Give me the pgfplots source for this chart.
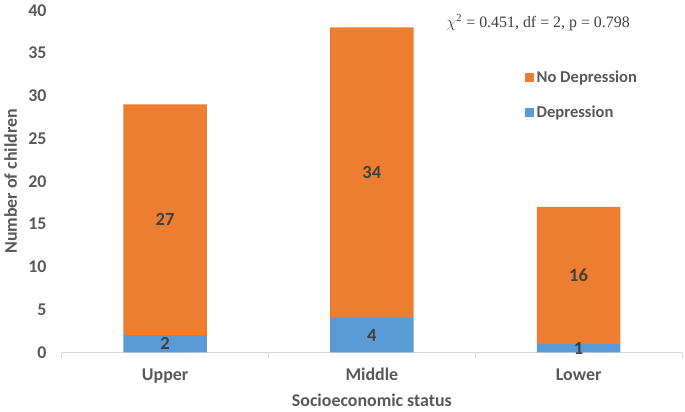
\documentclass[border=0pt]{standalone}
\usepackage{pgfplots}
\pgfplotsset{compat=1.18}
\usepackage{fontspec}
\setmainfont{Carlito}
\newfontfamily\tnr{Liberation Serif}
\definecolor{orng}{HTML}{ED7D31}
\definecolor{blu}{HTML}{5B9BD5}
\definecolor{tickc}{HTML}{595959}
\definecolor{labc}{HTML}{404040}
\definecolor{axg}{HTML}{D9D9D9}
\begin{document}
\begin{tikzpicture}
\begin{axis}[
  scale only axis, width=468pt, height=258pt,
  ybar stacked, bar width=63pt,
  xmin=-0.5, xmax=2.5, ymin=0, ymax=40,
  xtick={0,1,2}, xticklabels={Upper,Middle,Lower},
  minor xtick={-0.5,0.5,1.5,2.5},
  ytick={0,5,...,40},
  axis x line*=bottom, axis y line*=left,
  y axis line style={draw=none},
  x axis line style={axg, line width=0.75pt, -},
  major tick length=0pt,
  minor tick length=4pt,
  tick align=outside,
  minor tick style={axg, line width=0.75pt},
  /pgf/number format/assume math mode=true,
  tick label style={font=\bfseries\fontsize{13.5}{16}\selectfont, text=tickc},
  xticklabel style={text height=9pt, text depth=3pt, yshift=-9pt},
  yticklabel style={xshift=-8pt},
  xlabel={Socioeconomic status},
  ylabel={Number of children},
  every axis x label/.style={at={(axis description cs:0.5,0)}, anchor=base, yshift=-41pt, font=\bfseries\fontsize{13.5}{16}\selectfont, text=tickc},
  every axis y label/.style={at={(axis description cs:0,0.5)}, xshift=-33.75pt, rotate=90, anchor=base, font=\bfseries\fontsize{13.5}{16}\selectfont, text=tickc},
  nodes near coords,
  point meta=explicit,
  every node near coord/.append style={font=\bfseries\fontsize{14}{16}\selectfont, text=labc, anchor=center},
  reverse legend,
  legend style={at={(0.74,0.84)}, anchor=north west, draw=none, fill=none,
    font=\bfseries\fontsize{12.5}{15}\selectfont, text=tickc, row sep=12pt,
    /tikz/every even column/.append style={column sep=2pt}},
  legend cell align=left,
  legend image code/.code={\fill[#1] (0pt,-3.4pt) rectangle (6.8pt,3.4pt);},
]
\addplot[fill=blu, draw=none] coordinates {(0,2) [2] (1,4) [4] (2,1) [1]};
\addlegendentry{Depression}
\addplot[fill=orng, draw=none] coordinates {(0,27) [27] (1,34) [34] (2,16) [16]};
\addlegendentry{No Depression}
\node[anchor=west, font=\tnr\fontsize{12}{14}\selectfont, text=labc] at (rel axis cs:0.613,0.965) {$\chi$\textsuperscript{2} = 0.451, df = 2, p = 0.798};
\end{axis}
\path (current axis.south west) ++(-43.5pt,-42.75pt) rectangle ++(513.75pt,306.75pt);
\end{tikzpicture}
\end{document}
